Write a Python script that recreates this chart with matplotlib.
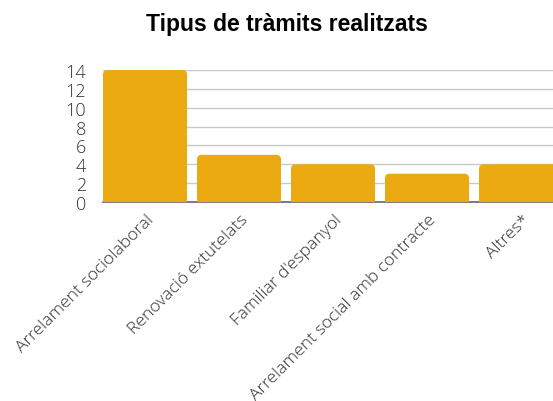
import matplotlib.pyplot as plt
from matplotlib.patches import FancyBboxPatch
from matplotlib.transforms import ScaledTranslation

categories = ['Arrelament sociolaboral', 'Renovació extutelats', "Familiar d'espanyol",
              'Arrelament social amb contracte', 'Altres*']
values = [14, 5, 4, 3, 4]
yticks = [0, 2, 4, 6, 8, 10, 12, 14]

bar_color = '#EBA912'

fig = plt.figure(figsize=(5.53, 4.02), dpi=100)
ax = fig.add_axes([103 / 553, 1 - 203 / 402, 450 / 553, 132 / 402])

width = 0.894
bars = ax.bar(range(len(values)), values, width=width, color=bar_color)

# bordes redondeados: sustituimos cada barra por un FancyBboxPatch
for b in bars:
    x, w, h = b.get_x(), b.get_width(), b.get_height()
    b.set_visible(False)
    p = FancyBboxPatch((x, -1), w, h + 1,
                       boxstyle='round,pad=0,rounding_size=0.05',
                       mutation_aspect=9.5, facecolor=bar_color,
                       edgecolor='none', zorder=3)
    ax.add_patch(p)

ax.set_xlim(-width / 2, -width / 2 + 450 / 94)
ax.set_ylim(0, 14)
ax.set_yticks(yticks)
ax.yaxis.grid(True, color='#c8c8c8', linewidth=1)
ax.set_axisbelow(True)
for s in ['top', 'right', 'left']:
    ax.spines[s].set_visible(False)
ax.spines['bottom'].set_color('#666666')
ax.spines['bottom'].set_linewidth(1.2)
ax.tick_params(axis='both', length=0, colors='#333333')
ax.tick_params(axis='y', pad=12)

ax.set_xticks(range(len(categories)))
ax.set_xticklabels(categories, rotation=45, ha='right', rotation_mode='anchor',
                   fontsize=12.6, family='Open Sans', fontweight='light', color='#333333')
offset = ScaledTranslation(1 / 100, -4 / 100, fig.dpi_scale_trans)
for t in ax.get_xticklabels():
    t.set_transform(t.get_transform() + offset)
for t in ax.get_yticklabels():
    t.set_fontsize(13)
    t.set_family('Open Sans')
    t.set_fontweight('light')

fig.text(287 / 553, 1 - 25 / 402, 'Tipus de tràmits realitzats', ha='center', va='center',
         fontsize=16.5, fontweight='bold', family='Liberation Sans', color='black')

fig.savefig('out.png', dpi=100)
